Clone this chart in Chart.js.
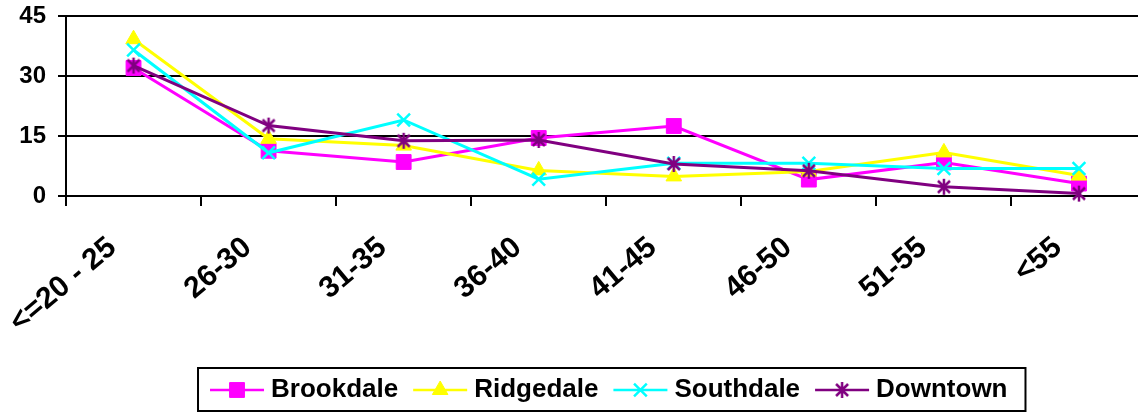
<!DOCTYPE html>
<html>
<head>
<meta charset="utf-8">
<script src="https://cdn.jsdelivr.net/npm/chart.js@4.4.0/dist/chart.umd.min.js"></script>
<style>
html, body { margin: 0; padding: 0; background: #fff; overflow: hidden; }
#wrap { width: 1138px; height: 413px; overflow: hidden; }
canvas { display: block; }
</style>
</head>
<body>
<div id="wrap"><canvas id="myChart" width="1158" height="413"></canvas></div>
<script>
var ageGroups = ['<=20 - 25', '26-30', '31-35', '36-40', '41-45', '46-50', '51-55', '<55'];
var brookdale = [32, 11.3, 8.5, 14.5, 17.5, 4.1, 8.4, 3.1];
var ridgedale = [39.2, 14.3, 12.6, 6.4, 4.9, 6.1, 10.9, 5.1];
var southdale = [36.5, 10.8, 19, 4.2, 8.2, 8.2, 6.9, 6.9];
var downtown  = [32.6, 17.6, 13.8, 14, 8, 6.3, 2.3, 0.6];
var yTicks = [0, 15, 30, 45];

var fontFam = '"Liberation Sans", Arial, sans-serif';

// excel style asterisk marker (x with a vertical bar)
function makeStar(color) {
    var c = document.createElement('canvas');
    c.width = 18; c.height = 18;
    var g = c.getContext('2d');
    g.strokeStyle = color;
    g.lineWidth = 2.5;
    g.beginPath();
    g.moveTo(3, 3); g.lineTo(15, 15);
    g.moveTo(15, 3); g.lineTo(3, 15);
    g.moveTo(9, 1); g.lineTo(9, 17);
    g.stroke();
    return c;
}

function series(label, data, color, style, radius, bw, order) {
    return {
        label: label,
        data: data,
        borderColor: color,
        backgroundColor: color,
        borderWidth: 3,
        pointStyle: style,
        pointRadius: radius,
        pointBorderWidth: bw,
        pointBackgroundColor: color,
        pointBorderColor: color,
        tension: 0,
        fill: false,
        clip: false,
        order: order
    };
}

// legend: line + marker drawn by hand, plus the frame
var legendMarks = {
    id: 'legendMarks',
    afterDraw: function(chart) {
        var lg = chart.legend;
        var boxes = lg.legendHitBoxes;
        var ctx = chart.ctx;
        ctx.save();
        boxes.forEach(function(b, i) {
            var ds = chart.data.datasets[i];
            var x0 = b.left + 5, x1 = b.left + 59, cy = b.top + b.height / 2;
            ctx.strokeStyle = ds.borderColor;
            ctx.lineWidth = 2.5;
            ctx.beginPath();
            ctx.moveTo(x0, cy);
            ctx.lineTo(x1, cy);
            ctx.stroke();
            ctx.fillStyle = ds.backgroundColor;
            ctx.lineWidth = ds.pointBorderWidth;
            Chart.helpers.drawPoint(ctx, {
                pointStyle: ds.pointStyle,
                radius: ds.pointRadius,
                rotation: 0,
                borderWidth: ds.pointBorderWidth
            }, (x0 + x1) / 2, cy);
        });
        var last = boxes[boxes.length - 1];
        var left = boxes[0].left - 7;
        var right = last.left + last.width + 18;
        ctx.strokeStyle = '#000';
        ctx.lineWidth = 2;
        ctx.strokeRect(left, lg.top + 1, right - left, lg.bottom - lg.top - 3);
        ctx.restore();
    }
};

var ctx = document.getElementById('myChart');
var myChart = new Chart(ctx, {
    type: 'line',
    data: {
        labels: ageGroups,
        datasets: [
            series('Brookdale', brookdale, '#FF00FF', 'rect', 10.5, 1, 4),
            series('Ridgedale', ridgedale, '#FFFF00', 'triangle', 9, 1, 3),
            series('Southdale', southdale, '#00FFFF', 'crossRot', 9, 2.5, 2),
            series('Downtown', downtown, '#800080', makeStar('#800080'), 9, 2.5, 1)
        ]
    },
    options: {
        responsive: false,
        animation: false,
        layout: { padding: { top: 16, left: 0, right: 0, bottom: 0 } },
        plugins: {
            title: { display: false },
            tooltip: { enabled: false },
            legend: {
                position: 'bottom',
                fullSize: false,
                labels: {
                    boxWidth: 53,
                    boxHeight: 26,
                    padding: 10,
                    color: '#000',
                    font: { family: fontFam, size: 26, weight: 'bold' },
                    generateLabels: function(chart) {
                        return chart.data.datasets.map(function(ds, i) {
                            return {
                                text: ds.label,
                                fillStyle: 'rgba(0,0,0,0)',
                                strokeStyle: 'rgba(0,0,0,0)',
                                lineWidth: 0,
                                hidden: false,
                                datasetIndex: i
                            };
                        });
                    }
                }
            }
        },
        scales: {
            x: {
                offset: true,
                grid: {
                    offset: true,
                    drawOnChartArea: false,
                    color: '#000',
                    lineWidth: 2,
                    tickLength: 10
                },
                border: { color: '#000', width: 2 },
                ticks: {
                    autoSkip: false,
                    minRotation: 40,
                    maxRotation: 40,
                    color: '#000',
                    padding: 24,
                    labelOffset: -21,
                    font: { family: fontFam, size: 30, weight: 'bold' }
                },
                afterFit: function(scale) { scale.height = 171; }
            },
            y: {
                min: 0,
                max: 45,
                afterBuildTicks: function(scale) {
                    scale.ticks = yTicks.map(function(v) { return { value: v }; });
                },
                grid: { color: '#000', lineWidth: 2, tickLength: 8 },
                border: { color: '#000', width: 2 },
                ticks: {
                    color: '#000',
                    padding: 12,
                    font: { family: fontFam, size: 24, weight: 'bold' }
                },
                afterFit: function(scale) {
                    scale.width = 66;
                    scale.paddingTop = 0;
                }
            }
        }
    },
    plugins: [legendMarks]
});
</script>
</body>
</html>
